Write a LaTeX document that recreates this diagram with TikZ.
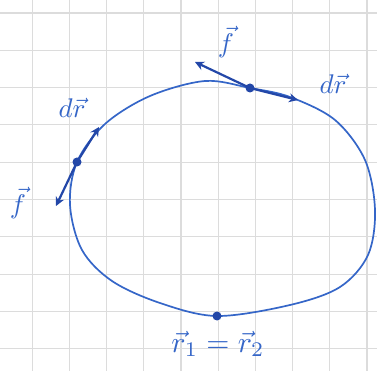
\documentclass[tikz,border=0pt]{standalone}
\usepackage{xcolor}
\usepackage{tikz}
\usetikzlibrary{arrows.meta,calc}
\definecolor{penblue}{HTML}{3566C8}
\definecolor{inkblue}{HTML}{2347A8}
\definecolor{gridgray}{HTML}{DCDCDC}
\tikzset{
  gridline/.style={draw=gridgray, line width=1.2pt},
  pathline/.style={draw=penblue, line width=1.7pt},
  pointdot/.style={circle, fill=inkblue, inner sep=0pt, minimum size=9pt},
  vecarrow/.style={-{Stealth[length=9pt,width=9pt]}, draw=inkblue, line width=2.2pt},
  veclabel/.style={text=penblue, scale=2.7}
}

\begin{document}
\begin{tikzpicture}[x=1pt, y=-1pt]
  \useasboundingbox[fill=white] (0,0) rectangle (377,371);
  % squared paper
  \foreach \gx in {-5,32.2,...,380}
    \draw[gridline] (\gx,0) -- (\gx,371);
  \foreach \gy in {13,50.3,...,371}
    \draw[gridline] (0,\gy) -- (377,\gy);

  % closed path
  \draw[pathline] plot[smooth cycle, tension=0.55] coordinates {
    (217,316) (290,305) (340,287) (368,255) (375,210) (365,160)
    (335,120) (290,97) (250,88) (205,81) (150,96) (105,124)
    (77,162) (70,205) (82,250) (112,281) (160,303)};

  % points on the path
  \node[pointdot] (startdot) at (217,316) {};
  \node[pointdot] (topdot) at (250,88) {};
  \node[pointdot] (leftdot) at (77,162) {};

  % vectors
  \coordinate (topf) at (195,62);
  \coordinate (topdr) at (298,100);
  \coordinate (leftf) at (56,206);
  \coordinate (leftdr) at (99,127);
  \draw[vecarrow] (topdot.center) -- (topf);
  \draw[vecarrow] (topdot.center) -- (topdr);
  \draw[vecarrow] (leftdot.center) -- (leftf);
  \draw[vecarrow] (leftdot.center) -- (leftdr);

  % labels
  \node[veclabel] (topflabel) at (226,42) {$\vec{f}$};
  \node[veclabel] (topdrlabel) at (333,84) {$d\vec{r}$};
  \node[veclabel] (leftdrlabel) at (72,108) {$d\vec{r}$};
  \node[veclabel] (leftflabel) at (18,203) {$\vec{f}$};
  \node[veclabel, scale=1.1] (startlabel) at (218,344) {$\vec{r}_1=\vec{r}_2$};
\end{tikzpicture}
\end{document}
